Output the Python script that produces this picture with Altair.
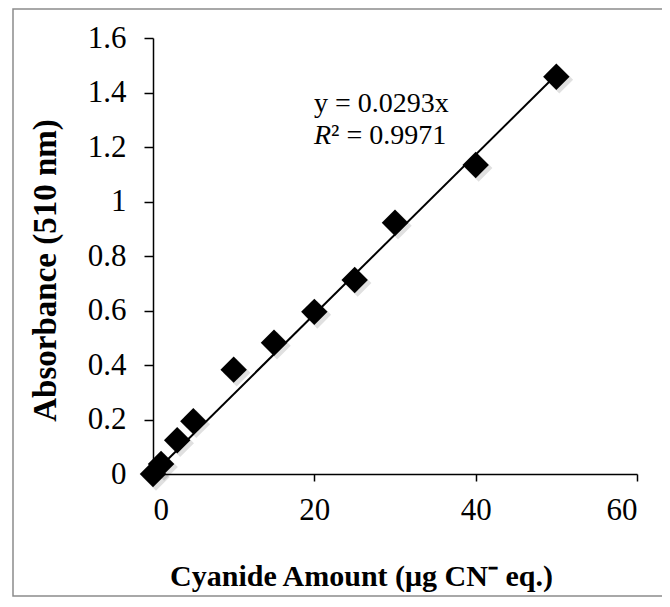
import altair as alt
import pandas as pd

# data
amount = [0, 1, 3, 5, 10, 15, 20, 25, 30, 40, 50]
absorbance = [0.0, 0.037, 0.124, 0.194, 0.383, 0.482, 0.595, 0.712, 0.922, 1.134, 1.458]
slope = 0.0293
fit_x = [0, 50]
x_ticks = [0, 20, 40, 60]
y_ticks = [0, 0.2, 0.4, 0.6, 0.8, 1.0, 1.2, 1.4, 1.6]

pts = pd.DataFrame({"x": amount, "y": absorbance})
fit = pd.DataFrame({"x": fit_x, "y": [slope * v for v in fit_x]})

FONT = "Liberation Serif"
W, H = 484, 436

xs = alt.Scale(domain=[0, 60], nice=False, zero=True)
ys = alt.Scale(domain=[0, 1.6], nice=False)

def y_label_expr():
    return "datum.value == 0 ? '0' : datum.value == 1 ? '1' : format(datum.value, '.1f')"

xaxis = alt.Axis(values=x_ticks, grid=False, domainColor="black", domainWidth=1.5,
                 tickColor="black", tickWidth=1.5, tickSize=7, labelPadding=14,
                 labelFont=FONT, labelFontSize=31, labelColor="black",
                 title="Cyanide Amount (μg CN⁻ eq.)", titleFont=FONT, titleFontSize=30,
                 titleFontWeight="bold", titleColor="black", titleX=208, titleY=111,
                 titleBaseline="alphabetic", titleAlign="center")
yaxis = alt.Axis(values=y_ticks, grid=False, domainColor="black", domainWidth=1.5,
                 tickColor="black", tickWidth=1.5, tickSize=9, labelPadding=18,
                 labelFont=FONT, labelFontSize=31, labelColor="black",
                 labelExpr=y_label_expr(),
                 title="Absorbance (510 nm)", titleFont=FONT, titleFontSize=33,
                 titleFontWeight="bold", titleColor="black", titleX=-98, titleY=232,
                 titleAngle=-90, titleBaseline="alphabetic", titleAlign="center")

# outer border
border = alt.Chart(pd.DataFrame({"a": [0]})).mark_rect(
    fill=None, stroke="#8c8c8c", strokeWidth=1.5
).encode(x=alt.value(-140), x2=alt.value(W + 27), y=alt.value(-29), y2=alt.value(H + 122))

shadow = alt.Chart(pts).mark_point(
    shape="diamond", filled=True, color="#000000", opacity=0.12, size=760, xOffset=3, yOffset=3
).encode(x=alt.X("x:Q", scale=xs, axis=xaxis), y=alt.Y("y:Q", scale=ys, axis=yaxis))

line = alt.Chart(fit).mark_line(color="black", strokeWidth=2).encode(
    x=alt.X("x:Q", scale=xs, axis=xaxis), y=alt.Y("y:Q", scale=ys, axis=yaxis))

points = alt.Chart(pts).mark_point(
    shape="diamond", filled=True, color="black", opacity=1, size=700
).encode(x=alt.X("x:Q", scale=xs, axis=xaxis), y=alt.Y("y:Q", scale=ys, axis=yaxis))

eq1 = alt.Chart(pd.DataFrame({"t": ["y = 0.0293x"]})).mark_text(
    font=FONT, fontSize=28, align="left", baseline="alphabetic", color="black"
).encode(text="t:N", x=alt.value(161), y=alt.value(74))
eq2a = alt.Chart(pd.DataFrame({"t": ["R"]})).mark_text(
    font=FONT, fontSize=28, fontStyle="italic", align="left", baseline="alphabetic", color="black"
).encode(text="t:N", x=alt.value(161), y=alt.value(106))
eq2b = alt.Chart(pd.DataFrame({"t": ["² = 0.9971"]})).mark_text(
    font=FONT, fontSize=28, align="left", baseline="alphabetic", color="black"
).encode(text="t:N", x=alt.value(178), y=alt.value(106))

chart = alt.layer(border, line, shadow, points, eq1, eq2a, eq2b).properties(
    width=W, height=H,
    autosize=alt.AutoSizeParams(type="none"),
    padding={"left": 145, "top": 30, "right": 25, "bottom": 124},
    background="white",
).configure_view(stroke=None)

chart.save("out.html", embed_options={"renderer": "svg", "actions": False})
